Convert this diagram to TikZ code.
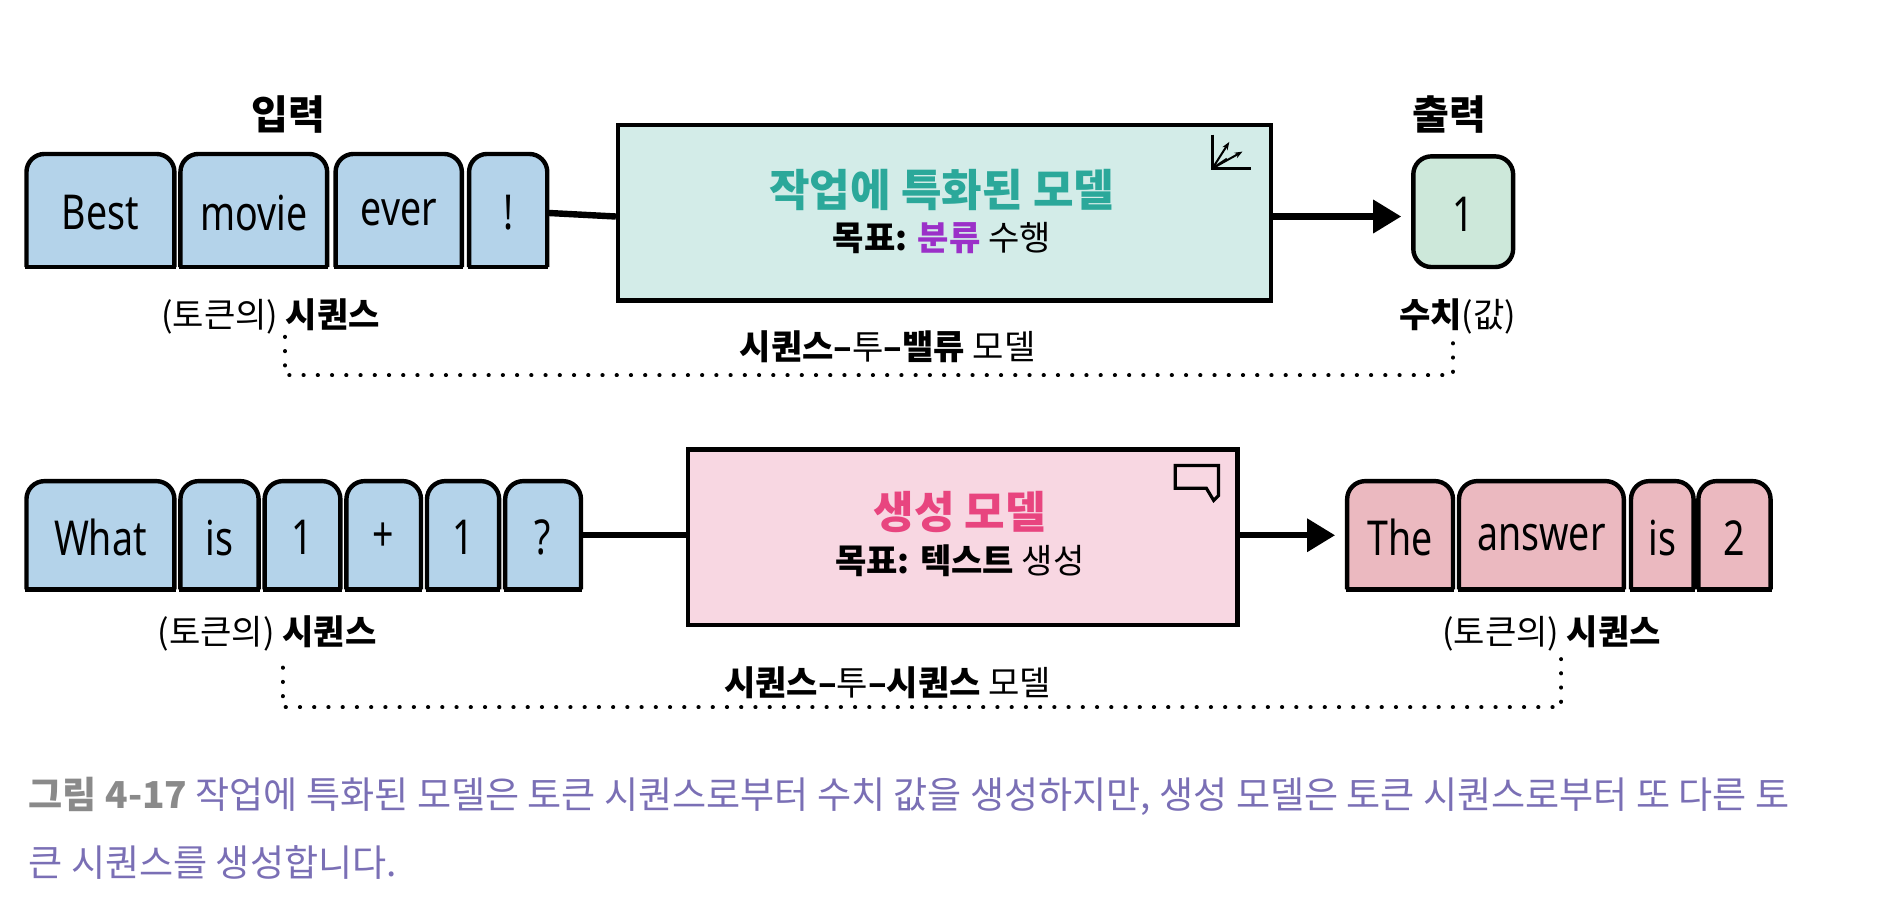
\documentclass[tikz,border=0pt]{standalone}
\usepackage{fontspec}
\usepackage{graphicx}
\setmainfont{Noto Sans CJK KR}
\newfontfamily\latn{Noto Sans}
\usetikzlibrary{arrows.meta}
\definecolor{tokblue}{HTML}{B4D3EA}
\definecolor{tokgreen}{HTML}{CDE8DA}
\definecolor{tokpink}{HTML}{EBB9C0}
\definecolor{boxgreen}{HTML}{D3ECE8}
\definecolor{boxpink}{HTML}{F8D7E2}
\definecolor{teal}{HTML}{2BA89A}
\definecolor{purp}{HTML}{9B30C8}
\definecolor{pinkt}{HTML}{E8457F}
\definecolor{capgray}{HTML}{8A8A8A}
\definecolor{cappurp}{HTML}{7A6FB5}
\tikzset{
 x=0.6pt,y=-0.6pt,
 tok/.style={draw=black,line width=2.2pt,rounded corners=9pt},
 ttxt/.style={font=\fontsize{24}{26}\selectfont\latn},
 model/.style={draw=black,line width=2.2pt},
 mtitle/.style={font=\fontsize{22}{26}\selectfont\bfseries},
 msub/.style={font=\fontsize{17}{22}\selectfont},
 conn/.style={line width=3.2pt},
 arr/.style={line width=3.2pt,-{Triangle[length=14pt,width=16pt]}},
 dot/.style={line width=2pt,dash pattern=on 0.1pt off 7pt,line cap=round},
 lbl/.style={font=\fontsize{17}{20}\selectfont},
 captxt/.style={anchor=west,font=\fontsize{18.5}{22}\selectfont,color=cappurp},
}
\newcommand{\tok}[7]{% name x1 x2 y1 y2 text fill
 \filldraw[tok,fill=#7] (#2,#5) -- (#2,#4) -- (#3,#4) -- (#3,#5);
 \draw[draw=black,line width=2.2pt] (#2-1,#5) -- (#3+1,#5);
 \node[ttxt] (#1) at ({(#2+#3)/2},{(#4+#5)/2+2}) {\scalebox{0.78}[1]{#6}};}
\begin{document}
\begin{tikzpicture}
\useasboundingbox (0,0) rectangle (1568,752);
% row 1
\tok{t1}{22}{145}{128}{222}{Best}{tokblue}
\tok{t2}{150}{272}{128}{222}{movie}{tokblue}
\tok{t3}{279}{384}{128}{222}{ever}{tokblue}
\tok{t4}{390}{455}{128}{222}{!}{tokblue}
\node[model,fill=boxgreen,minimum width=543*0.6pt,minimum height=146*0.6pt,anchor=north west] (m1) at (512,102) {};
\node[mtitle,color=teal] (m1t) at (783,158) {작업에 특화된 모델};
\node[msub] (m1s) at (783,198) {\textbf{목표: \color{purp}분류} 수행};
\draw[conn] (t4.east -| 455,180) -- (m1.west |- 0,180);
\draw[rounded corners=9pt,draw=black,line width=2.2pt,fill=tokgreen] (1175,130) rectangle (1258,222);
\node[ttxt] (o1) at (1216.5,178) {\scalebox{0.78}[1]{1}};
\draw[arr] (m1.east |- 0,180) -- (1165,180);
% icon 1
\draw[line width=1.3pt] (1008,112) -- (1008,140) -- (1040,140);
\draw[line width=1pt,-{Stealth[length=4pt]}] (1008,140) -- (1022,118);
\draw[line width=1pt,-{Stealth[length=4pt]}] (1008,140) -- (1033,126);
\draw[line width=1pt] (1008,140) -- (1020,132);
\node[font=\fontsize{20}{22}\selectfont\bfseries] (in1) at (240,95) {입력};
\node[font=\fontsize{20}{22}\selectfont\bfseries] (out1) at (1205,95) {출력};
\node[lbl] (s1) at (225,263) {(토큰의) \textbf{시퀀스}};
\node[lbl] (v1) at (1212,263) {\textbf{수치}(값)};
\node[lbl] (l1) at (738,288) {\textbf{시퀀스–}투\textbf{–밸류} 모델};
\draw[dot] (237,280) -- (237,312) -- (1208,312) -- (1208,282);
% row 2
\tok{u1}{22}{145}{400}{490}{What}{tokblue}
\tok{u2}{150}{215}{400}{490}{is}{tokblue}
\tok{u3}{220}{283}{400}{490}{1}{tokblue}
\tok{u4}{288}{350}{400}{490}{+}{tokblue}
\tok{u5}{355}{415}{400}{490}{1}{tokblue}
\tok{u6}{420}{483}{400}{490}{?}{tokblue}
\node[model,fill=boxpink,minimum width=457*0.6pt,minimum height=146*0.6pt,anchor=north west] (m2) at (570,372) {};
\node[mtitle,color=pinkt] (m2t) at (798,426) {생성 모델};
\node[msub] (m2s) at (798,466) {\textbf{목표: 텍스트} 생성};
\draw[conn] (483,445) -- (m2.west |- 0,445);
\draw[arr] (m2.east |- 0,445) -- (1110,445);
\draw[line width=1.6pt] (977,387) -- (1013,387) -- (1013,412) -- (1009,416) -- (1003,406) -- (977,406) -- cycle;
\tok{w1}{1120}{1208}{400}{490}{The}{tokpink}
\tok{w2}{1213}{1350}{400}{490}{answer}{tokpink}
\tok{w3}{1356}{1408}{400}{490}{is}{tokpink}
\tok{w4}{1412}{1472}{400}{490}{2}{tokpink}
\node[lbl] (s2) at (222,527) {(토큰의) \textbf{시퀀스}};
\node[lbl] (s3) at (1290,527) {(토큰의) \textbf{시퀀스}};
\node[lbl] (l2) at (738,568) {\textbf{시퀀스–}투\textbf{–시퀀스} 모델};
\draw[dot] (235,555) -- (235,588) -- (1298,588) -- (1298,548);
% caption
\node[captxt] (cap1) at (18,662) {{\bfseries\color{capgray}그림 4-17} 작업에 특화된 모델은 토큰 시퀀스로부터 수치 값을 생성하지만, 생성 모델은 토큰 시퀀스로부터 또 다른 토};
\node[captxt] (cap2) at (18,717) {큰 시퀀스를 생성합니다.};
\end{tikzpicture}
\end{document}
